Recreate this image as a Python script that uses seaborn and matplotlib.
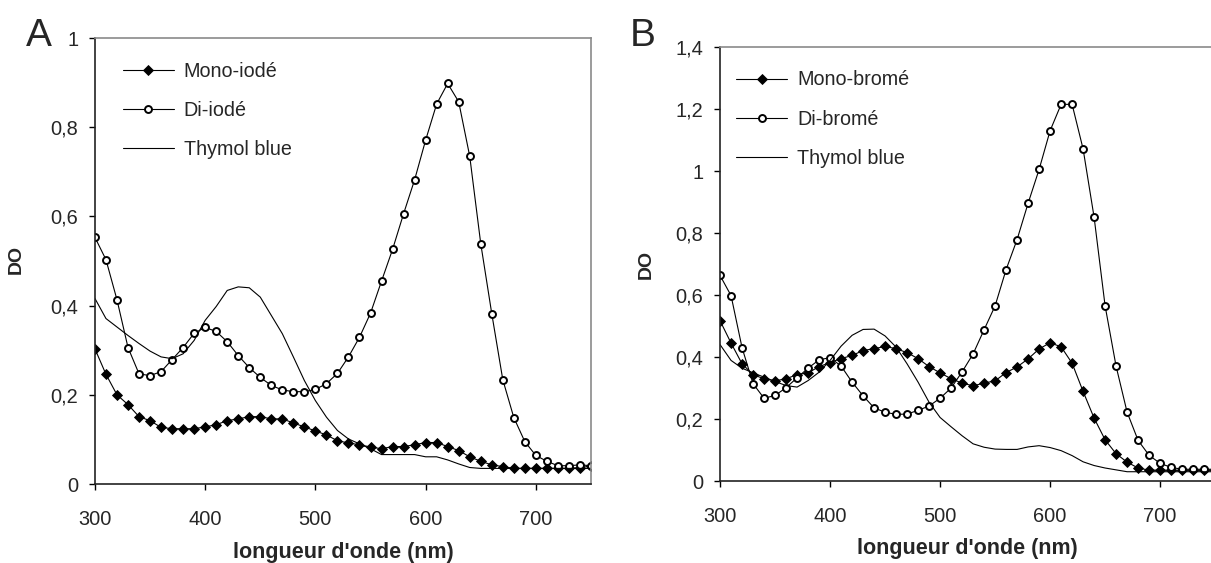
import matplotlib
matplotlib.use("Agg")
import matplotlib.pyplot as plt
import numpy as np
import seaborn as sns

# wavelengths (nm), one point every 10 nm
wavelength = np.arange(300, 751, 10)

# panel A - iodinated
mono_iode = [0.303, 0.246, 0.200, 0.178, 0.151, 0.142, 0.127, 0.124, 0.124, 0.124,
             0.128, 0.133, 0.142, 0.146, 0.151, 0.151, 0.146, 0.146, 0.137, 0.128,
             0.119, 0.110, 0.097, 0.092, 0.088, 0.083, 0.079, 0.084, 0.084, 0.088,
             0.093, 0.093, 0.084, 0.075, 0.061, 0.051, 0.043, 0.039, 0.035, 0.035,
             0.035, 0.035, 0.035, 0.035, 0.037, 0.040]
di_iode = [0.553, 0.503, 0.413, 0.306, 0.247, 0.243, 0.252, 0.279, 0.306, 0.338,
           0.351, 0.342, 0.319, 0.288, 0.261, 0.239, 0.221, 0.211, 0.207, 0.207,
           0.212, 0.225, 0.248, 0.285, 0.329, 0.383, 0.455, 0.526, 0.606, 0.682,
           0.771, 0.852, 0.898, 0.857, 0.735, 0.539, 0.382, 0.234, 0.149, 0.095,
           0.064, 0.051, 0.041, 0.041, 0.043, 0.041]
thymol_a = [0.416, 0.371, 0.352, 0.333, 0.315, 0.298, 0.285, 0.281, 0.292, 0.322,
            0.367, 0.398, 0.434, 0.442, 0.440, 0.419, 0.378, 0.337, 0.285, 0.232,
            0.187, 0.150, 0.120, 0.101, 0.090, 0.079, 0.066, 0.066, 0.066, 0.066,
            0.061, 0.061, 0.054, 0.045, 0.037, 0.035, 0.035, 0.035, 0.035, 0.035,
            0.035, 0.035, 0.035, 0.035, 0.035, 0.035]

# panel B - brominated
mono_brome = [0.517, 0.445, 0.378, 0.343, 0.330, 0.323, 0.330, 0.343, 0.349, 0.369,
              0.382, 0.395, 0.405, 0.421, 0.427, 0.434, 0.427, 0.414, 0.395, 0.369,
              0.349, 0.330, 0.316, 0.307, 0.316, 0.323, 0.350, 0.368, 0.394, 0.426,
              0.446, 0.433, 0.380, 0.289, 0.203, 0.133, 0.088, 0.061, 0.042, 0.035,
              0.035, 0.035, 0.035, 0.035, 0.035, 0.035]
di_brome = [0.663, 0.598, 0.430, 0.314, 0.267, 0.276, 0.301, 0.333, 0.364, 0.391,
            0.398, 0.371, 0.319, 0.275, 0.236, 0.222, 0.215, 0.216, 0.228, 0.242,
            0.267, 0.300, 0.352, 0.410, 0.488, 0.565, 0.682, 0.779, 0.896, 1.005,
            1.130, 1.215, 1.215, 1.071, 0.851, 0.565, 0.370, 0.222, 0.131, 0.083,
            0.057, 0.044, 0.038, 0.038, 0.038, 0.038]
thymol_b = [0.440, 0.389, 0.364, 0.349, 0.335, 0.321, 0.308, 0.303, 0.324, 0.351,
            0.389, 0.435, 0.470, 0.489, 0.490, 0.468, 0.432, 0.378, 0.319, 0.254,
            0.205, 0.175, 0.146, 0.120, 0.109, 0.103, 0.102, 0.102, 0.110, 0.114,
            0.108, 0.098, 0.082, 0.062, 0.050, 0.042, 0.036, 0.030, 0.030, 0.030,
            0.030, 0.030, 0.030, 0.030, 0.030, 0.030]

xticks = [300, 400, 500, 600, 700]
yticks_a = [0, 0.2, 0.4, 0.6, 0.8, 1.0]
ylabels_a = ["0", "0,2", "0,4", "0,6", "0,8", "1"]
yticks_b = [0, 0.2, 0.4, 0.6, 0.8, 1.0, 1.2, 1.4]
ylabels_b = ["0", "0,2", "0,4", "0,6", "0,8", "1", "1,2", "1,4"]

sns.set_theme(style="ticks")
plt.rcParams['font.family'] = ['Liberation Sans', 'DejaVu Sans']

fig = plt.figure(figsize=(12.11, 5.63), dpi=100)
axA = fig.add_axes([0.0784, 0.1403, 0.4096, 0.7922])
axB = fig.add_axes([0.5946, 0.1456, 0.4088, 0.7709])

def draw_panel(ax, mono, di, thymol, labels, yticks, ylabels, ymax, leg_xy, ylab_xy, xlab_pad):
    sns.lineplot(x=wavelength, y=mono, ax=ax, color='black', lw=0.8, marker='D',
                 markersize=4.6, mfc='black', mec='black', mew=0.6, label=labels[0])
    sns.lineplot(x=wavelength, y=di, ax=ax, color='black', lw=0.8, marker='o',
                 markersize=5.0, mfc='white', mec='black', mew=1.4, label=labels[1])
    sns.lineplot(x=wavelength, y=thymol, ax=ax, color='black', lw=0.8, label=labels[2])
    ax.set_xlim(300, 750)
    ax.set_ylim(0, ymax)
    ax.set_xticks(xticks)
    ax.set_xticklabels([str(t) for t in xticks])
    ax.set_yticks(yticks)
    ax.set_yticklabels(ylabels)
    ax.tick_params(axis='both', labelsize=14.4, length=4, width=1, color='black',
                   direction='out')
    ax.tick_params(axis='y', pad=8)
    ax.tick_params(axis='x', pad=15)
    for s in ['left', 'bottom']:
        ax.spines[s].set_color('#222222')
        ax.spines[s].set_linewidth(1.2)
    for s in ['top', 'right']:
        ax.spines[s].set_visible(True)
        ax.spines[s].set_color('#8a8a8a')
        ax.spines[s].set_linewidth(1.2)
    ax.set_xlabel("longueur d'onde (nm)", fontsize=15.5, fontweight='bold', labelpad=xlab_pad)
    ax.set_ylabel("DO", fontsize=14, fontweight='bold')
    ax.yaxis.set_label_coords(*ylab_xy)
    ax.legend(loc='upper left', bbox_to_anchor=leg_xy, frameon=False, fontsize=14.2,
              borderpad=0, borderaxespad=0, handlelength=2.6, handletextpad=0.5,
              labelspacing=1.02)

draw_panel(axA, mono_iode, di_iode, thymol_a, ["Mono-iodé", "Di-iodé", "Thymol blue"],
           yticks_a, ylabels_a, 1.0, (0.056, 0.947), (-0.141, 0.504), 9)
draw_panel(axB, mono_brome, di_brome, thymol_b, ["Mono-bromé", "Di-bromé", "Thymol blue"],
           yticks_b, ylabels_b, 1.4, (0.032, 0.946), (-0.131, 0.50), 8)

fig.text(0.021, 0.918, "A", fontsize=28, va='baseline', ha='left')
fig.text(0.520, 0.918, "B", fontsize=28, va='baseline', ha='left')

plt.savefig("out.png", dpi=100)
